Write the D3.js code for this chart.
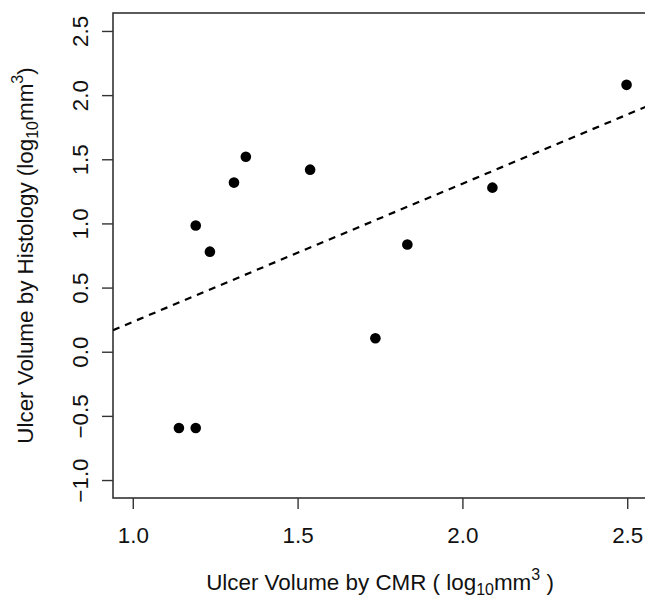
<!DOCTYPE html>
<html>
<head>
<meta charset="utf-8">
<script src="https://cdn.jsdelivr.net/npm/d3@7"></script>
<style>
  html, body { margin: 0; padding: 0; background: #fff; }
  svg { display: block; }
  text { font-family: "Liberation Sans", Arial, Helvetica, sans-serif; fill: #111; }
</style>
</head>
<body>
<svg id="chart" width="645" height="597"></svg>
<script>
// Data (log10 mm^3)
const cmrVolume = [1.140, 1.191, 1.191, 1.234, 1.307, 1.343, 1.538, 1.736, 1.833, 2.091, 2.498];
const histologyVolume = [-0.595, -0.595, 0.984, 0.780, 1.318, 1.520, 1.419, 0.105, 0.836, 1.279, 2.080];
const xTicks = [1.0, 1.5, 2.0, 2.5];
const yTicks = [-1.0, -0.5, 0.0, 0.5, 1.0, 1.5, 2.0, 2.5];
const xLimits = [1.0, 2.5];
const yLimits = [-1.0, 2.5];

const svg = d3.select("#chart");
const plot = { left: 113, right: 647, top: 13, bottom: 498 };
const fs = 22.4, fsSmall = 16;

// R-style 4% axis expansion
function expand(lim) { const d = (lim[1] - lim[0]) * 0.04; return [lim[0] - d, lim[1] + d]; }

const x = d3.scaleLinear().domain(expand(xLimits)).range([plot.left, plot.right]);
const y = d3.scaleLinear().domain(expand(yLimits)).range([plot.bottom, plot.top]);

svg.append("defs").append("clipPath").attr("id", "clip")
  .append("rect").attr("x", plot.left).attr("y", plot.top)
  .attr("width", plot.right - plot.left).attr("height", plot.bottom - plot.top);

// Axes
const xAxis = svg.append("g").attr("transform", `translate(0,${plot.bottom})`)
  .call(d3.axisBottom(x).tickValues(xTicks).tickFormat(d3.format(".1f")).tickSize(11).tickSizeOuter(0));
xAxis.select(".domain").remove();
xAxis.selectAll("line").attr("stroke", "#333").attr("stroke-width", 1.4);
xAxis.selectAll("text").attr("font-size", fs).attr("dy", null).attr("y", 45)
  .attr("fill", "#111").attr("font-family", "Liberation Sans, Arial, sans-serif");

const yAxis = svg.append("g").attr("transform", `translate(${plot.left},0)`)
  .call(d3.axisLeft(y).tickValues(yTicks).tickFormat(d => d3.format(".1f")(d).replace("-", "\u2212")).tickSize(11).tickSizeOuter(0));
yAxis.select(".domain").remove();
yAxis.selectAll("line").attr("stroke", "#333").attr("stroke-width", 1.4);
yAxis.selectAll("text")
  .attr("font-size", fs).attr("fill", "#111").attr("font-family", "Liberation Sans, Arial, sans-serif")
  .attr("x", null).attr("dy", null)
  .attr("text-anchor", "middle")
  .attr("transform", "translate(-25,0) rotate(-90)")
  .attr("y", 0);

// Plot box
svg.append("rect").attr("x", plot.left).attr("y", plot.top)
  .attr("width", plot.right - plot.left).attr("height", plot.bottom - plot.top)
  .attr("fill", "none").attr("stroke", "#333").attr("stroke-width", 1.6);

// Least-squares fit line from the data
const mx = d3.mean(cmrVolume), my = d3.mean(histologyVolume);
let sxy = 0, sxx = 0;
cmrVolume.forEach((v, i) => { sxy += (v - mx) * (histologyVolume[i] - my); sxx += (v - mx) * (v - mx); });
const slope = sxy / sxx, intercept = my - slope * mx;
const xd = x.domain();
svg.append("line").attr("clip-path", "url(#clip)")
  .attr("x1", x(xd[0])).attr("y1", y(intercept + slope * xd[0]))
  .attr("x2", x(xd[1])).attr("y2", y(intercept + slope * xd[1]))
  .attr("stroke", "#000").attr("stroke-width", 2.2).attr("stroke-dasharray", "7,6");

// Points
svg.append("g").selectAll("circle").data(cmrVolume.map((v, i) => [v, histologyVolume[i]]))
  .join("circle")
  .attr("cx", d => x(d[0])).attr("cy", d => y(d[1])).attr("r", 5.3).attr("fill", "#000");

// Axis titles
const xt = svg.append("text").attr("x", (plot.left + plot.right) / 2).attr("y", 590)
  .attr("text-anchor", "middle").attr("font-size", fs);
xt.append("tspan").text("Ulcer Volume by CMR ( log");
xt.append("tspan").attr("font-size", fsSmall).attr("dy", 5).text("10");
xt.append("tspan").attr("dy", -5).text("mm");
xt.append("tspan").attr("font-size", fsSmall).attr("dy", -10).text("3");
xt.append("tspan").attr("dy", 10).text(" )");

const yt = svg.append("text")
  .attr("transform", `translate(33,${(plot.top + plot.bottom) / 2}) rotate(-90)`)
  .attr("text-anchor", "middle").attr("font-size", fs);
yt.append("tspan").text("Ulcer Volume by Histology (log");
yt.append("tspan").attr("font-size", fsSmall).attr("dy", 5).text("10");
yt.append("tspan").attr("dy", -5).text("mm");
yt.append("tspan").attr("font-size", fsSmall).attr("dy", -10).text("3");
yt.append("tspan").attr("dy", 10).text(")");
</script>
</body>
</html>
